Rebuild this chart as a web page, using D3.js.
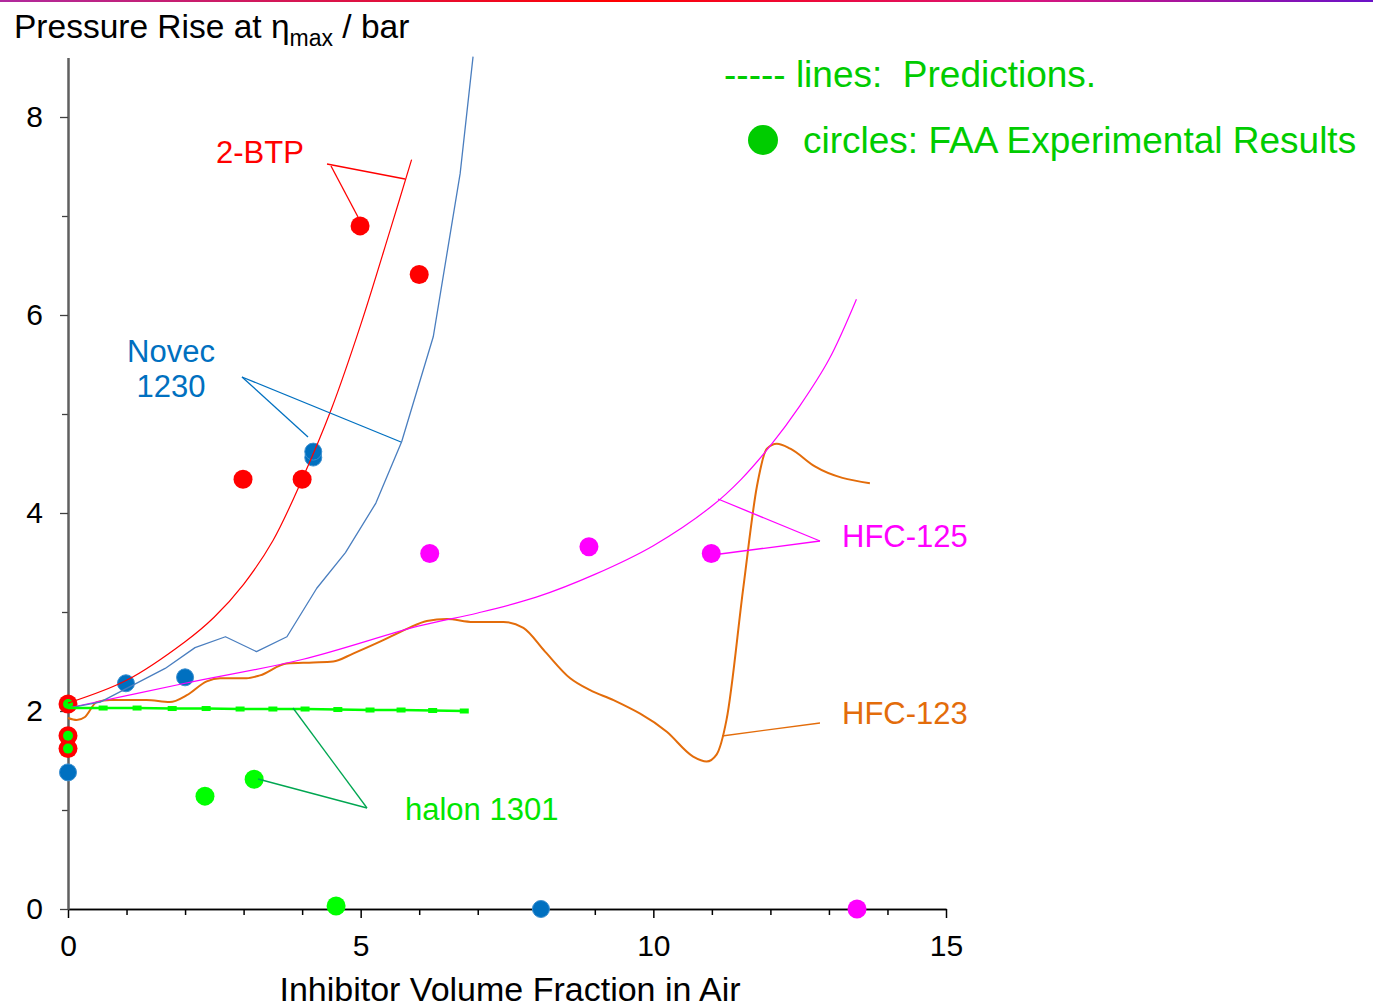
<!DOCTYPE html>
<html><head><meta charset="utf-8">
<script src="https://cdn.jsdelivr.net/npm/d3@7"></script>
<style>body{margin:0;background:#fff;} svg{display:block;font-family:"Liberation Sans",Arial,sans-serif;}</style>
</head><body><svg id="c" width="1373" height="1008"></svg>
<script>
// ---- tick labels
const xTickMajor = [0, 5, 10, 15];
const xTickMinor = [1, 2, 3, 4, 6, 7, 8, 9, 11, 12, 13, 14];
const yTickMajor = [0, 2, 4, 6, 8];
const yTickMinor = [1, 3, 5, 7];

// ---- prediction lines
const btpX = [0, 1, 2, 2.5, 3, 3.5, 4, 4.5, 5, 5.5, 5.87];
const btpY = [2.08, 2.31, 2.70, 2.95, 3.28, 3.72, 4.34, 5.05, 5.9, 6.85, 7.57];

const novecX = [0, 0.55, 1.66, 2.17, 2.69, 3.22, 3.74, 4.25, 4.74, 5.26, 5.70, 6.24, 6.70, 6.92];
const novecY = [2.03, 2.09, 2.43, 2.64, 2.75, 2.60, 2.75, 3.24, 3.60, 4.10, 4.72, 5.78, 7.43, 8.61];

const hfc125X = [0, 2, 4, 6, 7, 8, 9, 10, 11, 11.5, 12, 12.5, 13, 13.47];
const hfc125Y = [2.03, 2.28, 2.52, 2.86, 2.99, 3.15, 3.38, 3.67, 4.07, 4.34, 4.68, 5.08, 5.55, 6.16];

const hfc123X = [0, 0.15, 0.29, 0.49, 0.72, 1.34, 1.74, 2.03, 2.37, 2.6, 3.05, 3.28, 3.74, 4.19, 4.53, 4.87, 5.33, 5.79, 6.13, 6.47, 6.92, 7.44, 7.78, 8.15, 8.58, 8.92, 9.32, 10.23, 10.68, 10.91, 11.08, 11.25, 11.54, 11.77, 11.94, 12.11, 12.34, 12.76, 13.70];
const hfc123Y = [1.93, 1.91, 1.94, 2.09, 2.11, 2.11, 2.09, 2.16, 2.30, 2.33, 2.33, 2.36, 2.48, 2.49, 2.50, 2.58, 2.70, 2.83, 2.91, 2.93, 2.90, 2.90, 2.84, 2.60, 2.33, 2.21, 2.11, 1.79, 1.54, 1.49, 1.56, 1.91, 3.26, 4.27, 4.65, 4.70, 4.65, 4.47, 4.30];

const halonX = [0, 0.6, 1.18, 1.78, 2.36, 2.94, 3.5, 4.05, 4.61, 5.16, 5.69, 6.23, 6.77];
const halonY = [2.03, 2.03, 2.03, 2.025, 2.025, 2.02, 2.02, 2.02, 2.015, 2.01, 2.01, 2.005, 2.0];

// ---- experimental points
const btpPtX = [0, 0, 0, 2.99, 4.0, 4.99, 6.0];
const btpPtY = [2.07, 1.75, 1.62, 4.34, 4.34, 6.90, 6.41];
const halonPtX = [0, 0, 0, 2.34, 3.18, 4.58];
const halonPtY = [2.07, 1.75, 1.62, 1.14, 1.31, 0.03];
const novecPtX = [0, 0.99, 2.0, 4.19, 4.19, 8.08];
const novecPtY = [1.38, 2.28, 2.34, 4.56, 4.62, 0];
const hfc125PtX = [6.18, 8.9, 10.99, 13.48];
const hfc125PtY = [3.59, 3.66, 3.59, 0];

const svg = d3.select("#c");
const x = d3.scaleLinear([0, 15], [68, 946]);
const y = d3.scaleLinear([0, 8.6], [909, 57.6]);

// top gradient rule
const defs = svg.append("defs");
const g = defs.append("linearGradient").attr("id", "topg");
[["0%", "#b02a9e"], ["45%", "#ff0000"], ["75%", "#d8157c"], ["100%", "#6a12c8"]].forEach(s =>
  g.append("stop").attr("offset", s[0]).attr("stop-color", s[1]));
svg.append("rect").attr("x", 0).attr("y", 0).attr("width", 1373).attr("height", 2).attr("fill", "url(#topg)");

// axes
const xa = svg.append("g").attr("transform", "translate(0,909)");
xa.call(d3.axisBottom(x).tickValues(xTickMinor).tickSize(6).tickSizeOuter(0).tickFormat(""));
xa.append("g").call(d3.axisBottom(x).tickValues(xTickMajor).tickSize(9).tickSizeOuter(0).tickPadding(17).tickFormat(d3.format("d")));
xa.selectAll("path,line").attr("stroke", "#000").attr("stroke-width", 1.5);
xa.selectAll("text").attr("font-size", 30).attr("fill", "#000").attr("font-family", "Liberation Sans, Arial, sans-serif");

const ya = svg.append("g").attr("transform", "translate(68,0)");
ya.call(d3.axisLeft(y).tickValues(yTickMinor).tickSize(6).tickSizeOuter(0).tickFormat(""));
ya.append("g").call(d3.axisLeft(y).tickValues(yTickMajor).tickSize(8).tickSizeOuter(0).tickPadding(17).tickFormat(d3.format("d")));
ya.selectAll("path").attr("stroke", "#606060").attr("stroke-width", 2);
ya.selectAll("line").attr("stroke", "#404040").attr("stroke-width", 1.3);
ya.selectAll("text").attr("font-size", 30).attr("fill", "#000").attr("font-family", "Liberation Sans, Arial, sans-serif");

// points
function pts(xs, ys, r, fill, stroke) {
  svg.append("g").selectAll("circle").data(xs.map((d, i) => [d, ys[i]])).join("circle")
    .attr("cx", d => x(d[0])).attr("cy", d => y(d[1])).attr("r", r)
    .attr("fill", fill).attr("stroke", stroke || "none").attr("stroke-width", 1);
}
pts(btpPtX, btpPtY, 9.5, "#ff0000");
pts(halonPtX.slice(0, 3), halonPtY.slice(0, 3), 5, "#00ff00");
pts(halonPtX.slice(3), halonPtY.slice(3), 9.5, "#00ff00");
pts(novecPtX, novecPtY, 8.5, "#0070c0", "#3b8fd0");
pts(hfc125PtX, hfc125PtY, 9.5, "#ff00ff");

// lines
function line(xs, ys, color, w, curve) {
  const gen = d3.line().x(d => x(d[0])).y(d => y(d[1])).curve(curve);
  svg.append("path").attr("d", gen(xs.map((d, i) => [d, ys[i]])))
    .attr("fill", "none").attr("stroke", color).attr("stroke-width", w).attr("stroke-linejoin", "round");
}
line(hfc123X, hfc123Y, "#e36c0a", 2, d3.curveMonotoneX);
line(hfc125X, hfc125Y, "#ff00ff", 1.2, d3.curveCatmullRom);
line(novecX, novecY, "#4a7ebf", 1.3, d3.curveLinear);
line(btpX, btpY, "#ff0000", 1.2, d3.curveCatmullRom);
line(halonX, halonY, "#00ff00", 2.5, d3.curveLinear);
svg.append("g").selectAll("rect").data(halonX.slice(1).map((d, i) => [d, halonY[i + 1]])).join("rect")
  .attr("x", d => x(d[0]) - 4.5).attr("y", d => y(d[1]) - 2.5).attr("width", 9).attr("height", 5)
  .attr("fill", "#00ff00");

// annotations
function seg(x1, y1, x2, y2, c) {
  svg.append("line").attr("x1", x1).attr("y1", y1).attr("x2", x2).attr("y2", y2)
    .attr("stroke", c).attr("stroke-width", 1.3);
}
function txt(t, xx, yy, c, size, anchor) {
  return svg.append("text").attr("x", xx).attr("y", yy).attr("fill", c).attr("font-size", size)
    .attr("text-anchor", anchor || "start").text(t);
}
seg(327, 164, 405, 179, "#ff0000"); seg(331, 166, 358, 217, "#ff0000");
txt("2-BTP", 216, 163, "#ff0000", 31);
seg(242, 377, 401, 442, "#0070c0"); seg(242, 377, 308, 437, "#0070c0");
txt("Novec", 171, 362, "#0070c0", 31, "middle");
txt("1230", 171, 397, "#0070c0", 31, "middle");
seg(718, 499, 820, 541, "#ff00ff"); seg(820, 541, 720, 554, "#ff00ff");
txt("HFC-125", 842, 547, "#ff00ff", 31);
seg(722, 736, 820, 723, "#e36c0a");
txt("HFC-123", 842, 724, "#e36c0a", 31);
seg(293, 708, 367, 808, "#00a651"); seg(258, 779, 367, 808, "#00a651");
txt("halon 1301", 405, 820, "#00e600", 31);

// legend
txt("----- lines:  Predictions.", 724, 87, "#00cc00", 37).attr("xml:space", "preserve").style("white-space", "pre");
svg.append("circle").attr("cx", 763).attr("cy", 140).attr("r", 15).attr("fill", "#00cc00");
txt("circles: FAA Experimental Results", 803, 153, "#00cc00", 37);

// titles
const t = svg.append("text").attr("x", 14).attr("y", 38).attr("font-size", 33.5).attr("fill", "#000");
t.append("tspan").text("Pressure Rise at ");
t.append("tspan").text("η");
t.append("tspan").attr("font-size", 23).attr("dy", 8).text("max");
t.append("tspan").attr("dy", -8).text(" / bar");
svg.append("text").attr("x", 510).attr("y", 1001).attr("text-anchor", "middle").attr("font-size", 34)
  .attr("fill", "#000").text("Inhibitor Volume Fraction in Air");
</script></body></html>
